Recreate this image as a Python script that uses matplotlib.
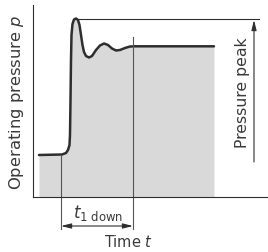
import numpy as np
import matplotlib
matplotlib.use("Agg")
import matplotlib.pyplot as plt

# pressure curve (time t, operating pressure p), schematic units
time_t = [6, 29, 33, 35, 36.5, 37, 37.5, 38, 38.5, 39.5, 41, 43, 45, 46.5, 48,
          49.5, 51, 53, 56, 59, 63, 67, 71, 75, 79, 83, 87, 92, 97, 102, 181]
pressure_p = [42, 42.5, 44, 47, 52, 62, 97, 137, 162, 173, 177.5, 178.5, 177, 172, 162,
              152, 145, 141, 139.5, 141, 147, 151.5, 153.5, 152, 148.5, 146.5, 147, 149,
              150.5, 150.7, 150.7]

peak_p = 178.5
t1_start, t1_end = 28, 100

plt.rcParams['font.family'] = 'DejaVu Sans'
plt.rcParams['mathtext.fontset'] = 'dejavusans'

fig = plt.figure(figsize=(2.68, 2.52), dpi=100)
ax = fig.add_axes([33 / 268, 55 / 252, 235 / 268, 192 / 252])
ax.set_xlim(0, 235)
ax.set_ylim(0, 192)

dark = '#2e2e2e'
txt = '#3a3a3a'
ax.fill_between(time_t, 0, pressure_p, color='#d9d9d9', lw=0)
ax.plot(time_t, pressure_p, color=dark, lw=1.8, solid_joinstyle='round', solid_capstyle='round')

# peak reference line
ax.plot([43, 226], [peak_p, peak_p], color=dark, lw=0.8)

# t1 down markers
ax.plot([t1_start, t1_start], [42, -32], color='#555555', lw=0.8, clip_on=False)
ax.plot([t1_end, t1_end], [160, -32], color='#555555', lw=0.8, clip_on=False)
ax.annotate('', xy=(t1_start, -29), xytext=(t1_end, -29), annotation_clip=False,
            arrowprops=dict(arrowstyle='<|-|>,head_length=0.6,head_width=0.15',
                            color=dark, lw=0.8, shrinkA=0, shrinkB=0))
ax.text((t1_start + t1_end) / 2 + 1, -16, r'$t_{\mathrm{1\ down}}$', ha='center', va='center',
        fontsize=12, color=txt, clip_on=False)

# pressure peak arrow
ax.annotate('', xy=(221, 177), xytext=(221, 35), annotation_clip=False,
            arrowprops=dict(arrowstyle='-|>,head_length=0.6,head_width=0.15',
                            color=dark, lw=0.8, shrinkA=0, shrinkB=0))
ax.text(209, 104, 'Pressure peak', rotation=90, ha='center', va='center',
        fontsize=11.3, color=txt)

ax.text(96, -45, r'Time $t$', ha='center', va='center', fontsize=10.5, color=txt, clip_on=False)
ax.text(-16, 95, r'Operating pressure $p$', rotation=90, ha='center', va='center',
        fontsize=11.8, color=txt, clip_on=False)

for s in ['top', 'right']:
    ax.spines[s].set_visible(False)
for s in ['left', 'bottom']:
    ax.spines[s].set_color(dark)
    ax.spines[s].set_linewidth(0.8)
ax.set_xticks([])
ax.set_yticks([])
ax.patch.set_alpha(0)

fig.savefig('out.png', dpi=100)
